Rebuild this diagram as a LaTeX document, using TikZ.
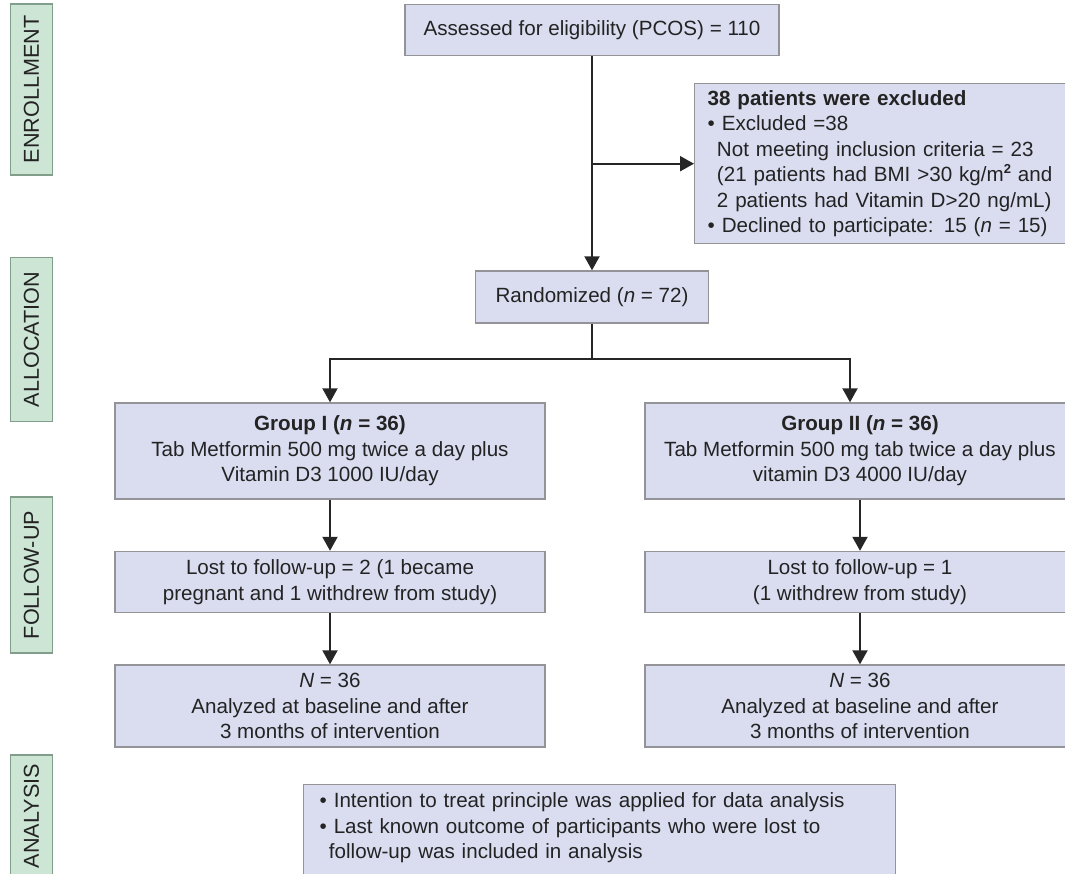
\documentclass[tikz,border=0pt]{standalone}
\usepackage{fontspec}
\setmainfont{Liberation Sans}
\usetikzlibrary{positioning, arrows.meta}
\definecolor{BoxFill}{RGB}{218,221,240}
\definecolor{BoxLine}{RGB}{148,148,152}
\definecolor{SideFill}{RGB}{205,229,213}
\definecolor{SideLine}{RGB}{128,158,138}
\definecolor{TxtGray}{RGB}{35,35,35}

\begin{document}
\begin{tikzpicture}[x=1pt, y=-1pt,
          box/.style={rectangle, draw=BoxLine, fill=BoxFill, line width=1.4pt,
                      text=TxtGray, font=\fontsize{20.6}{25.5}\selectfont,
                      align=center, inner sep=0pt},
          side/.style={rectangle, draw=SideLine, fill=SideFill, line width=1.4pt,
                       text=TxtGray, font=\fontsize{21.6}{26}\selectfont,
                       rotate=90, minimum height=42pt, inner sep=0pt},
          line/.style={line width=2pt, draw=black!85},
          arr/.style={line, -{Triangle[length=14pt, width=15pt]}}
        ]
        \useasboundingbox (0,0) rectangle (1065,873);
        \clip (0,0) rectangle (1065,873);

        % Phase labels
        \node[side, minimum width=171pt] (enr)   at (31.5, 89.5)  {ENROLLMENT};
        \node[side, minimum width=164pt] (alloc) at (31.5, 339.5) {ALLOCATION};
        \node[side, minimum width=156pt] (fol)   at (31.5, 575)   {FOLLOW-UP};
        \node[side, minimum width=122pt] (ana)   at (31.5, 816)   {ANALYSIS};

        % Enrollment
        \node[box, minimum width=374pt, minimum height=51pt]
              (assess) at (592, 30) {Assessed for eligibility (PCOS) = 110};
        \node[box, anchor=north west, align=left, text width=362pt,
              inner xsep=13pt, minimum height=160pt]
              (excl) at (694, 83)
              {{\bfseries 38 patients were excluded}\\
               \textbullet\ Excluded =38\\
               \hspace*{0.45em}Not meeting inclusion criteria = 23\\
               \hspace*{0.45em}(21 patients had BMI >30 kg/m\raisebox{0.75ex}{\fontsize{13}{13}\selectfont\bfseries 2} and\\
               \hspace*{0.45em}2 patients had Vitamin D>20 ng/mL)\\
               \textbullet\ Declined to participate: 15 (\textit{n} = 15)};

        % Allocation
        \node[box, minimum width=233pt, minimum height=52pt]
              (rand) at (592, 297) {Randomized (\textit{n} = 72)};
        \node[box, minimum width=430pt, minimum height=96pt]
              (g1) at (330, 451)
              {{\bfseries Group I (\textit{n} = 36)}\\
               Tab Metformin 500 mg twice a day plus\\
               Vitamin D3 1000 IU/day};
        \node[box, minimum width=430pt, minimum height=96pt]
              (g2) at (860, 451)
              {{\bfseries Group II (\textit{n} = 36)}\\
               Tab Metformin 500 mg tab twice a day plus\\
               vitamin D3 4000 IU/day};

        % Follow-up
        \node[box, minimum width=430pt, minimum height=61pt]
              (lost1) at (330, 582)
              {Lost to follow-up = 2 (1 became\\
               pregnant and 1 withdrew from study)};
        \node[box, minimum width=430pt, minimum height=61pt]
              (lost2) at (860, 582)
              {Lost to follow-up = 1\\(1 withdrew from study)};

        % Analysis
        \node[box, minimum width=430pt, minimum height=82pt]
              (n1) at (330, 706)
              {\textit{N} = 36\\Analyzed at baseline and after\\3 months of intervention};
        \node[box, minimum width=430pt, minimum height=82pt]
              (n2) at (860, 706)
              {\textit{N} = 36\\Analyzed at baseline and after\\3 months of intervention};
        \node[box, anchor=north west, align=left, text width=560pt,
              inner xsep=16pt, inner ysep=8pt, minimum height=100pt]
              (itt) at (303, 784)
              {\textbullet\ Intention to treat principle was applied for data analysis\\
               \textbullet\ Last known outcome of participants who were lost to\\
               \hspace*{0.45em}follow-up was included in analysis\par\vspace*{30pt}};

        % Connectors
        \coordinate (br) at (assess.south |- excl.west);
        \coordinate (sp) at (592, 359);
        \draw[arr] (assess.south) -- (rand.north);
        \draw[arr] (br) -- (excl.west);
        \draw[line] (rand.south) -- (sp);
        \draw[arr] (sp) -| (g1.north);
        \draw[arr] (sp) -| ([xshift=-10pt]g2.north);
        \foreach \g in {1, 2} {
          \draw[arr] (g\g.south) -- (lost\g.north);
          \draw[arr] (lost\g.south) -- (n\g.north);
        }
      \end{tikzpicture}
\end{document}
